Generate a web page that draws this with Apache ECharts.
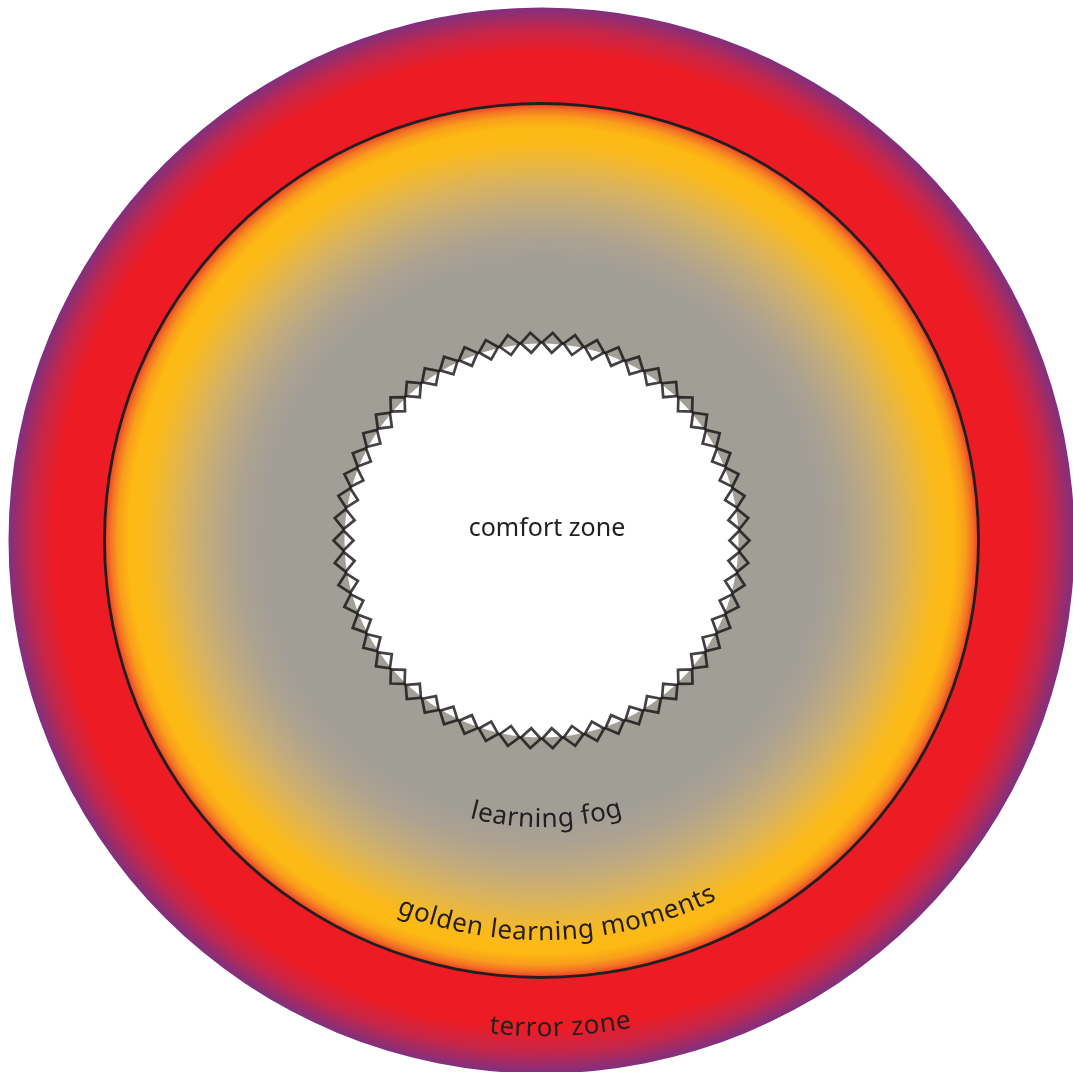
<!DOCTYPE html>
<html>
<head>
<meta charset="utf-8">
<script src="https://cdn.jsdelivr.net/npm/echarts@6/dist/echarts.min.js"></script>
<style>
html,body{margin:0;padding:0;background:#fff;}
#chart{width:1073px;height:1072px;}
</style>
</head>
<body>
<div id="chart"></div>
<script>
// ---- data ----
const zoneNames = ['comfort zone', 'learning fog', 'golden learning moments', 'terror zone'];
const comfortRadius = 197;      // white comfort zone
const boundaryRadius = 437;     // black line between golden zone and terror zone
const outerRadius = 533;        // outer edge of terror zone
const ringRadius = 198;         // radius of the zig-zag (diamond) border
const diamondCount = 58;
const curvedLabels = ['learning fog', 'golden learning moments', 'terror zone'];
const curvedBaselineRadii = [287, 400, 496];
const curvedShiftDeg = [1.0, 2.4, 2.2];

// ---- layout / style ----
const CX = 541.5, CY = 540.5;
const FONT = '"Noto Sans", "Open Sans", sans-serif';
const TEXT_COLOR = '#231f20';
const FONT_SIZE = 26;

const chart = echarts.init(document.getElementById('chart'));

const diamonds = [];
for (let i = 0; i < diamondCount; i++) {
  const a = (i + 0.5) * 360 / diamondCount;
  diamonds.push({ value: [ringRadius, a], symbolRotate: -a });
}

const measureCtx = document.createElement('canvas').getContext('2d');
function charWidth(ch) {
  measureCtx.font = FONT_SIZE + 'px ' + FONT;
  return measureCtx.measureText(ch).width;
}

const bgGradient = new echarts.graphic.RadialGradient(0.5, 0.5, 0.5, [
  { offset: 0.00, color: '#a09e97' },
  { offset: 0.52, color: '#a19e96' },
  { offset: 0.57, color: '#aca291' },
  { offset: 0.62, color: '#bfaa80' },
  { offset: 0.67, color: '#d6b262' },
  { offset: 0.71, color: '#ebb73d' },
  { offset: 0.745, color: '#fbba1a' },
  { offset: 0.775, color: '#fdb913' },
  { offset: 0.795, color: '#f99e1b' },
  { offset: 0.808, color: '#f47524' },
  { offset: 0.817, color: '#ef4a24' },
  { offset: 0.822, color: '#ed1c24' },
  { offset: 0.915, color: '#ed1c24' },
  { offset: 0.96, color: '#c5264a' },
  { offset: 1.00, color: '#80307f' }
]);

function pieRing(r0, r1, color, z) {
  return {
    type: 'pie', silent: true, animation: false, z: z,
    center: [CX, CY], radius: [r0, r1],
    label: { show: false }, labelLine: { show: false },
    emphasis: { disabled: true },
    itemStyle: { color: color, borderWidth: 0 },
    data: [{ value: 1 }]
  };
}

const option = {
  animation: false,
  polar: { center: [CX, CY], radius: outerRadius },
  angleAxis: { type: 'value', min: 0, max: 360, startAngle: 90, clockwise: true, show: false },
  radiusAxis: { type: 'value', min: 0, max: outerRadius, show: false },
  graphic: [{
    type: 'text', x: 547, y: 529, z: 100,
    style: { text: zoneNames[0], fontSize: 25, fontFamily: FONT, fill: TEXT_COLOR,
             align: 'center', verticalAlign: 'middle' }
  }],
  series: [
    pieRing(0, outerRadius, bgGradient, 1),
    pieRing(boundaryRadius - 1.4, boundaryRadius + 1.4, '#231f20', 2),
    pieRing(0, comfortRadius, '#ffffff', 3),
    {
      type: 'scatter', coordinateSystem: 'polar', silent: true, z: 4,
      symbol: 'diamond', symbolSize: 20,
      itemStyle: { color: 'rgba(0,0,0,0)', borderColor: '#141213', borderWidth: 2.7 },
      data: diamonds
    },
    {
      type: 'custom', coordinateSystem: 'polar', silent: true, z: 5,
      data: curvedLabels.map((t, i) => [curvedBaselineRadii[i], 180]),
      renderItem: function (params, api) {
        const i = params.dataIndex;
        const c = api.coord([0, 0]);
        const text = curvedLabels[i];
        const R = curvedBaselineRadii[i];
        const shift = curvedShiftDeg[i] * Math.PI / 180;
        const spacing = 0.6;
        const chars = text.split('');
        const widths = chars.map(charWidth);
        const total = widths.reduce((a, b) => a + b, 0) + spacing * (chars.length - 1);
        const k = 0.30 * FONT_SIZE;
        let s = -total / 2;
        const children = [];
        chars.forEach((ch, j) => {
          const mid = s + widths[j] / 2;
          const phi = shift + mid / R;
          const rr = R - k;
          children.push({
            type: 'text',
            x: c[0] + rr * Math.sin(phi),
            y: c[1] + rr * Math.cos(phi),
            rotation: phi,
            style: { text: ch, fontSize: FONT_SIZE, fontFamily: FONT, fill: TEXT_COLOR,
                     align: 'center', verticalAlign: 'middle' }
          });
          s += widths[j] + spacing;
        });
        return { type: 'group', children: children };
      }
    }
  ]
};
chart.setOption(option);
</script>
</body>
</html>
